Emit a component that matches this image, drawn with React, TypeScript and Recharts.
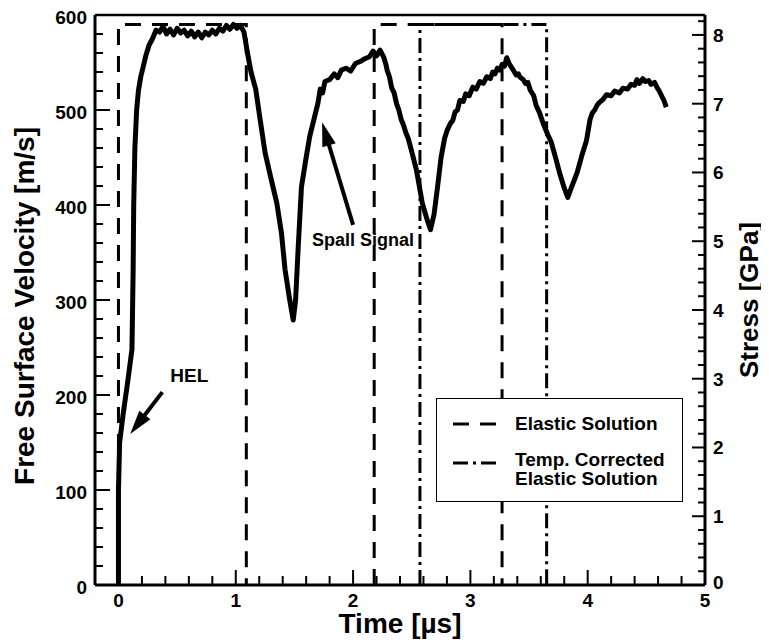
import React from 'react';
import { LineChart, Line, XAxis, YAxis, ReferenceLine, Legend } from 'recharts';

// ---- data ----
const timeUs = [
  0, 0, 0.01, 0.04, 0.08, 0.115, 0.125, 0.13, 0.14, 0.155, 0.17, 0.19, 0.21, 0.235, 0.26, 0.29, 0.32,
  0.35, 0.38, 0.41, 0.44, 0.47, 0.5, 0.53, 0.56, 0.59, 0.62, 0.65, 0.68, 0.71, 0.74, 0.77, 0.8, 0.83,
  0.86, 0.89, 0.92, 0.95, 0.98, 1.01, 1.04, 1.07, 1.1, 1.13, 1.17, 1.21, 1.25, 1.3, 1.35, 1.39, 1.42,
  1.46, 1.49, 1.51, 1.53, 1.56, 1.6, 1.63, 1.67, 1.7, 1.72, 1.74, 1.76, 1.8, 1.84, 1.87, 1.9, 1.94,
  1.98, 2.02, 2.06, 2.1, 2.14, 2.17, 2.2, 2.23, 2.26, 2.28, 2.29, 2.31, 2.33, 2.35, 2.37, 2.39, 2.41,
  2.43, 2.45, 2.47, 2.49, 2.54, 2.59, 2.63, 2.66, 2.69, 2.72, 2.75, 2.78, 2.8, 2.83, 2.85, 2.87, 2.89,
  2.91, 2.94, 2.96, 2.99, 3.02, 3.05, 3.08, 3.11, 3.14, 3.17, 3.19, 3.21, 3.23, 3.25, 3.27, 3.29, 3.31,
  3.33, 3.35, 3.37, 3.39, 3.41, 3.42, 3.45, 3.47, 3.49, 3.51, 3.54, 3.56, 3.59, 3.62, 3.66, 3.69, 3.73,
  3.76, 3.8, 3.83, 3.86, 3.91, 3.95, 3.99, 4.02, 4.04, 4.06, 4.08, 4.1, 4.13, 4.16, 4.2, 4.23, 4.27,
  4.3, 4.34, 4.37, 4.4, 4.42, 4.44, 4.47, 4.49, 4.52, 4.54, 4.57, 4.59, 4.61, 4.63, 4.65, 4.67,
];
const velocity = [
  0, 100, 150, 180, 215, 248, 330, 400, 460, 500, 520, 535, 545, 558, 568, 575, 584,
  582, 588, 580, 585, 579, 586, 581, 584, 578, 583, 577, 582, 576, 582, 579, 584, 580,
  586, 583, 589, 585, 590, 586, 589, 582, 560, 540, 522, 488, 455, 428, 402, 370, 332,
  300, 279, 300, 350, 419, 450, 472, 492, 507, 522, 518, 530, 532, 538, 534, 542, 544,
  541, 549, 551, 554, 556, 562, 557, 563, 556, 548, 542, 535, 523, 518, 507, 500, 490,
  484, 476, 470, 461, 437, 402, 385, 374, 390, 419, 450, 470, 478, 486, 489, 498, 500,
  510, 509, 517, 515, 524, 522, 530, 528, 535, 533, 540, 538, 544, 542, 548, 546, 555,
  549, 545, 541, 537, 538, 535, 532, 528, 529, 521, 515, 505, 497, 486, 474, 466, 448,
  434, 418, 408, 418, 434, 452, 468, 490, 497, 500, 505, 508, 511, 516, 515, 520, 518,
  523, 522, 527, 526, 532, 528, 533, 530, 531, 527, 529, 524, 520, 515, 510, 503,
];
const elasticT = [0, 0, 1.09, 1.09, 1.6, 2.18, 2.18, 3.27, 3.27];
const elasticV = [0, 590, 590, 0, null, 0, 590, 590, 0];
const tempT = [2.57, 2.57, 3.65, 3.65];
const tempV = [0, 590, 590, 0];

const xMajorTicks = [0, 1, 2, 3, 4, 5];
const vMajorTicks = [0, 100, 200, 300, 400, 500, 600];
const sMajorTicks = [0, 1, 2, 3, 4, 5, 6, 7, 8];

const helArrow = { tail: { t: 0.374, v: 203 }, tip: { t: 0.1, v: 159 } };
const spallArrow = { tail: { t: 2.0, v: 379 }, tip: { t: 1.736, v: 487 } };

// ---- derived tables ----
const curveData = timeUs.map((t, i) => ({ t, v: velocity[i] }));
const elasticData = elasticT.map((t, i) => ({ t, v: elasticV[i] }));
const tempData = tempT.map((t, i) => ({ t, v: tempV[i] }));
const xTicks = Array.from({ length: 26 }, (_, i) => Math.round(i * 2) / 10);
const vTicks = Array.from({ length: 31 }, (_, i) => i * 20);
const sTicks = Array.from({ length: 42 }, (_, i) => Math.round(i * 2) / 10);

const FONT = '"Liberation Sans", Arial, Helvetica, sans-serif';
const TICK_FS = 19;

const isMajor = (v: number, list: number[]) => list.some((m) => Math.abs(m - v) < 1e-6);

const XTick = (p: any) => {
  const { x, y, payload } = p;
  const v = payload.value;
  const major = isMajor(v, xMajorTicks);
  return (
    <g>
      {v > 0 && v < 5 && (
        <line x1={x} x2={x} y1={y} y2={y - (major ? 15 : 9)} stroke="#000" strokeWidth={2} />
      )}
      {major && (
        <text x={x} y={y + 22} textAnchor="middle" fontFamily={FONT} fontWeight="bold" fontSize={TICK_FS} fill="#000">
          {v}
        </text>
      )}
    </g>
  );
};

const LeftTick = (p: any) => {
  const { x, y, payload } = p;
  const v = payload.value;
  const major = isMajor(v, vMajorTicks);
  return (
    <g>
      {v > 0 && v < 600 && (
        <line x1={x} x2={x + (major ? 15 : 8)} y1={y} y2={y} stroke="#000" strokeWidth={2} />
      )}
      {major && (
        <text x={x - 8} y={y + 9} textAnchor="end" fontFamily={FONT} fontWeight="bold" fontSize={TICK_FS} fill="#000">
          {v}
        </text>
      )}
    </g>
  );
};

const RightTick = (p: any) => {
  const { x, y, payload } = p;
  const v = payload.value;
  const major = isMajor(v, sMajorTicks);
  return (
    <g>
      {v > 0 && (
        <line x1={x} x2={x - (major ? 13 : 7)} y1={y} y2={y} stroke="#000" strokeWidth={2} />
      )}
      {major && (
        <text x={x + 8} y={y + (v === 0 ? 4 : 7)} textAnchor="start" fontFamily={FONT} fontWeight="bold" fontSize={TICK_FS} fill="#000">
          {v}
        </text>
      )}
    </g>
  );
};

const makeArrow = (label: string, dx: number, dy: number, anchor: 'start' | 'middle', fs: number) => (p: any) => {
  const { x1, y1, x2, y2 } = p;
  const ddx = x2 - x1;
  const ddy = y2 - y1;
  const len = Math.hypot(ddx, ddy) || 1;
  const ux = ddx / len;
  const uy = ddy / len;
  const hl = 24;
  const hw = 7;
  const bx = x2 - ux * hl;
  const by = y2 - uy * hl;
  const pts = `${x2},${y2} ${bx - uy * hw},${by + ux * hw} ${bx + uy * hw},${by - ux * hw}`;
  return (
    <g>
      <line x1={x1} y1={y1} x2={bx + ux * 2} y2={by + uy * 2} stroke="#000" strokeWidth={4} />
      <polygon points={pts} fill="#000" />
      <text x={x1 + dx} y={y1 + dy} textAnchor={anchor} fontFamily={FONT} fontWeight="bold" fontSize={fs} fill="#000">
        {label}
      </text>
    </g>
  );
};

const LegendBox = () => (
  <div
    style={{
      width: 247,
      height: 104,
      boxSizing: 'border-box',
      border: '1.5px solid #000',
      background: '#fff',
      position: 'relative',
      fontFamily: FONT,
      fontWeight: 'bold',
      fontSize: 19,
      color: '#000',
      lineHeight: '19px',
    }}
  >
    <svg width={60} height={100} style={{ position: 'absolute', left: 14, top: 0 }}>
      <line x1={2} x2={46} y1={25} y2={25} stroke="#000" strokeWidth={3} strokeDasharray="16 11" />
      <line x1={2} x2={46} y1={64} y2={64} stroke="#000" strokeWidth={3} strokeDasharray="15 5 3 5" />
    </svg>
    <div style={{ position: 'absolute', left: 78, top: 15 }}>Elastic Solution</div>
    <div style={{ position: 'absolute', left: 78, top: 51 }}>
      Temp. Corrected
      <br />
      Elastic Solution
    </div>
  </div>
);

export default function App() {
  return (
    <LineChart width={761} height={634} margin={{ top: 7, right: 0, bottom: 0, left: 0 }}>
      <XAxis
        dataKey="t"
        type="number"
        domain={[-0.2, 5]}
        ticks={xTicks}
        interval={0}
        allowDataOverflow
        height={57}
        tickSize={0}
        tickMargin={0}
        tickLine={false}
        axisLine={{ stroke: '#000', strokeWidth: 3 }}
        tick={<XTick />}
        label={(p: any) => {
          const vb = p.viewBox || {};
          return (
            <text x={vb.x + vb.width / 2} y={vb.y + 48} textAnchor="middle" fontFamily={FONT} fontWeight="bold" fontSize={28} fill="#000">
              Time [µs]
            </text>
          );
        }}
      />
      <YAxis
        yAxisId="v"
        type="number"
        domain={[0, 600]}
        ticks={vTicks}
        interval={0}
        allowDataOverflow
        width={87}
        tickSize={0}
        tickMargin={0}
        tickLine={false}
        axisLine={{ stroke: '#000', strokeWidth: 3 }}
        tick={<LeftTick />}
        label={(p: any) => {
          const vb = p.viewBox || {};
          const cx = vb.x + 16;
          const cy = vb.y + vb.height / 2 + 6;
          return (
            <text x={cx} y={cy} transform={`rotate(-90 ${cx} ${cy})`} textAnchor="middle" dominantBaseline="central" fontFamily={FONT} fontWeight="bold" fontSize={28} fill="#000">
              Free Surface Velocity [m/s]
            </text>
          );
        }}
      />
      <YAxis
        yAxisId="s"
        orientation="right"
        type="number"
        domain={[0, 8.29]}
        ticks={sTicks}
        interval={0}
        allowDataOverflow
        width={64}
        tickSize={0}
        tickMargin={0}
        tickLine={false}
        axisLine={{ stroke: '#000', strokeWidth: 3 }}
        tick={<RightTick />}
        label={(p: any) => {
          const vb = p.viewBox || {};
          const bx = vb.x + 53;
          const cy = vb.y + vb.height / 2;
          return (
            <text x={bx} y={cy} transform={`rotate(-90 ${bx} ${cy})`} textAnchor="middle" fontFamily={FONT} fontWeight="bold" fontSize={26} fill="#000">
              Stress [GPa]
            </text>
          );
        }}
      />
      <ReferenceLine yAxisId="v" y={600} stroke="#000" strokeWidth={2.5} />
      <Line
        yAxisId="v"
        data={elasticData}
        dataKey="v"
        type="linear"
        stroke="#000"
        strokeWidth={3}
        strokeDasharray="16 11"
        dot={false}
        activeDot={false}
        connectNulls={false}
        isAnimationActive={false}
        name="Elastic Solution"
      />
      <Line
        yAxisId="v"
        data={tempData}
        dataKey="v"
        type="linear"
        stroke="#000"
        strokeWidth={3}
        strokeDasharray="15 5 3 5"
        dot={false}
        activeDot={false}
        isAnimationActive={false}
        name="Temp. Corrected Elastic Solution"
      />
      <Line
        yAxisId="v"
        data={curveData}
        dataKey="v"
        type="linear"
        stroke="#000"
        strokeWidth={5}
        strokeLinejoin="round"
        dot={false}
        activeDot={false}
        isAnimationActive={false}
        legendType="none"
        name="Free surface velocity"
      />
      <ReferenceLine
        yAxisId="v"
        segment={[{ x: helArrow.tail.t, y: helArrow.tail.v }, { x: helArrow.tip.t, y: helArrow.tip.v }]}
        shape={makeArrow('HEL', 8, -10, 'start', 19)}
      />
      <ReferenceLine
        yAxisId="v"
        segment={[{ x: spallArrow.tail.t, y: spallArrow.tail.v }, { x: spallArrow.tip.t, y: spallArrow.tip.v }]}
        shape={makeArrow('Spall Signal', 10, 21, 'middle', 18)}
      />
      <Legend
        layout="vertical"
        align="center"
        verticalAlign="middle"
        wrapperStyle={{ left: 428, top: 390, width: 247, height: 104 }}
        content={() => <LegendBox />}
      />
    </LineChart>
  );
}
